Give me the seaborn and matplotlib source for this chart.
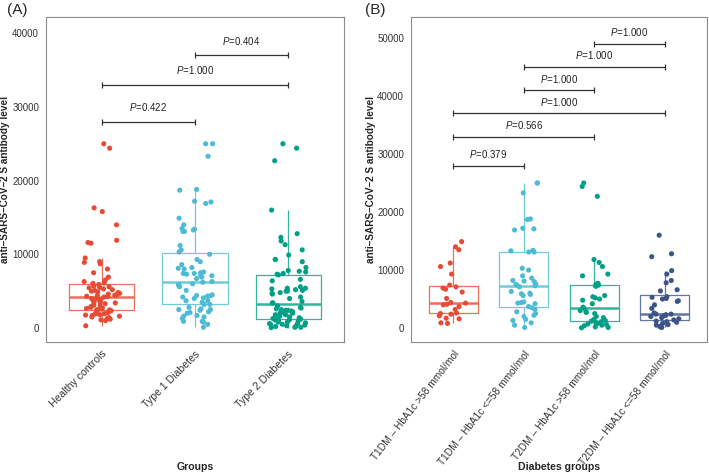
import numpy as np
import pandas as pd
import matplotlib
matplotlib.use('Agg')
import matplotlib.pyplot as plt
import seaborn as sns

# antibody levels, per subgroup
healthy = [25000, 24400, 16300, 15800, 14000, 11900, 11600, 11500, 9500, 9000, 8900, 8700, 8000, 7500, 6900,
           6500, 6300, 6100, 6050, 5900, 5700, 5600, 5500, 5450, 5300, 5200, 5100, 5000, 4900, 4800, 4700,
           4600, 4500, 4450, 4400, 4300, 4250, 4200, 4100, 4000, 3900, 3800, 3700, 3600, 3500, 3400, 3300,
           3200, 3100, 3000, 2900, 2800, 2700, 2650, 2600, 2500, 2450, 2350, 2300, 2250, 2200, 2100, 2000,
           1950, 1900, 1800, 1750, 1700, 1600, 1500, 1400, 1300, 1200, 1100, 1000, 300]
t1_high = [14900, 14000, 13500, 11200, 10600, 9300, 7400, 7100, 6900, 6700, 6200, 5100, 4400, 4300, 4100,
           4000, 3700, 3200, 2600, 2500, 2400, 2100, 1700, 1600, 900, 800]
t1_low = [25000, 25000, 23300, 18800, 18700, 17200, 17100, 16900, 13400, 13300, 13100, 13100, 10300, 10000,
          9000, 8600, 8200, 8100, 8000, 7600, 7500, 7400, 7300, 7100, 6300, 6000, 5900, 5800, 5600, 4500,
          4400, 4300, 4200, 3700, 3500, 3200, 2800, 2500, 2200, 2000, 1500, 1300, 900, 500, 100]
t2_high = [25000, 24400, 22700, 11800, 11300, 10600, 9300, 9000, 7700, 7600, 7400, 7300, 7200, 5600, 5400,
           5200, 5000, 4800, 4200, 3600, 3400, 3000, 2800, 2700, 2500, 2000, 1800, 1500, 1300, 1200, 1100,
           1000, 800, 700, 600, 500, 400, 200, 100, 50]
t2_low = [16000, 12800, 12300, 9900, 9300, 8200, 7800, 6600, 6400, 5400, 5300, 5100, 5000, 4700, 4600,
          4000, 3400, 2600, 2400, 2400, 2300, 2200, 2100, 2000, 1800, 1600, 1400, 1100, 1200, 1000, 800,
          600, 500, 300, 200, 100]

groups_a = ['Healthy controls', 'Type 1 Diabetes', 'Type 2 Diabetes']
groups_b = ['T1DM – HbA1c >58 mmol/mol', 'T1DM – HbA1c <=58 mmol/mol',
            'T2DM – HbA1c >58 mmol/mol', 'T2DM – HbA1c <=58 mmol/mol']

colors = ['#E64B35', '#4DBBD5', '#00A087', '#3C5488']

# (first group, second group, bracket height, p value)
pairs_a = [(0, 1, 28000, '0.422'), (0, 2, 33000, '1.000'), (1, 2, 37000, '0.404')]
pairs_b = [(0, 1, 28000, '0.379'), (0, 2, 33000, '0.566'), (0, 3, 37000, '1.000'),
           (1, 2, 41000, '1.000'), (1, 3, 45000, '1.000'), (2, 3, 49000, '1.000')]

values_a = [healthy, t1_high + t1_low, t2_high + t2_low]
values_b = [t1_high, t1_low, t2_high, t2_low]

sns.set_style('white')
plt.rcParams['font.family'] = ['Liberation Sans', 'DejaVu Sans']
plt.rcParams['mathtext.fontset'] = 'custom'
plt.rcParams['mathtext.rm'] = 'Liberation Sans'
plt.rcParams['mathtext.it'] = 'Liberation Sans:italic'

np.random.seed(3)


def lighten(c, amount=0.2):
    r = np.array(matplotlib.colors.to_rgb(c))
    return tuple(r * (1 - amount) + amount)


def panel(ax, groups, values, pairs, ylim, yticks, xlabel, rot, xsize):
    df = pd.DataFrame({
        'group': np.repeat(groups, [len(v) for v in values]),
        'value': np.concatenate(values),
    })
    cols = colors[:len(groups)]
    box_pal = dict(zip(groups, [lighten(c) for c in cols]))
    pt_pal = dict(zip(groups, cols))

    sns.boxplot(data=df, x='group', y='value', hue='group', order=groups, palette=box_pal,
                fill=False, width=0.7, showfliers=False, showcaps=False, linewidth=0.9,
                medianprops={'linewidth': 1.8}, legend=False, ax=ax)
    sns.stripplot(data=df, x='group', y='value', hue='group', order=groups, palette=pt_pal,
                  jitter=0.2, size=3.7, linewidth=0, legend=False, zorder=3, ax=ax)

    for i, j, h, p in pairs:
        ax.plot([i, j], [h, h], color='#333333', lw=0.9, marker='|', markersize=4.5,
                markeredgewidth=0.9, zorder=4)
        ax.text((i + j) / 2, h + 2000, r'$P$=' + p, ha='center', va='center',
                fontsize=7, color='#222222')

    ax.set_xlim(-0.6, len(groups) - 0.4)
    ax.set_ylim(*ylim)
    ax.set_yticks(yticks)
    ax.set_yticklabels([str(t) for t in yticks])
    ax.set_xticks(range(len(groups)))
    ax.set_xticklabels(groups, rotation=rot, ha='right', va='top', rotation_mode='anchor')
    ax.tick_params(axis='x', labelsize=xsize, length=3, width=0.7, color='#666666',
                   labelcolor='#333333', pad=2)
    ax.tick_params(axis='y', labelsize=7, length=3, width=0.7, color='#666666',
                   labelcolor='#333333', pad=2)
    for s in ax.spines.values():
        s.set_color('#8c8c8c')
        s.set_linewidth(0.8)
    ax.set_xlabel(xlabel, fontsize=7.6, fontweight='bold')
    ax.set_ylabel('anti–SARS–CoV–2 S antibody level', fontsize=7.2, fontweight='bold')
    ax.xaxis.set_label_coords(0.5, -0.37)
    ax.yaxis.set_label_coords(-0.118, 0.5)


fig = plt.figure(figsize=(7.09, 4.74), dpi=100)
ax_a = fig.add_axes([0.0649, 0.2785, 0.4203, 0.6856])
ax_b = fig.add_axes([0.5797, 0.2785, 0.4175, 0.6856])

panel(ax_a, groups_a, values_a, pairs_a, (-1900, 42200), [0, 10000, 20000, 30000, 40000],
      'Groups', 45, 7.6)
panel(ax_b, groups_b, values_b, pairs_b, (-2400, 53600),
      [0, 10000, 20000, 30000, 40000, 50000], 'Diabetes groups', 52, 7.3)
ax_a.yaxis.set_label_coords(-0.121, 0.5)

fig.text(0.0099, 0.994, '(A)', fontsize=11, va='top', ha='left')
fig.text(0.5148, 0.994, '(B)', fontsize=11, va='top', ha='left')

fig.savefig('out.png', dpi=100)
